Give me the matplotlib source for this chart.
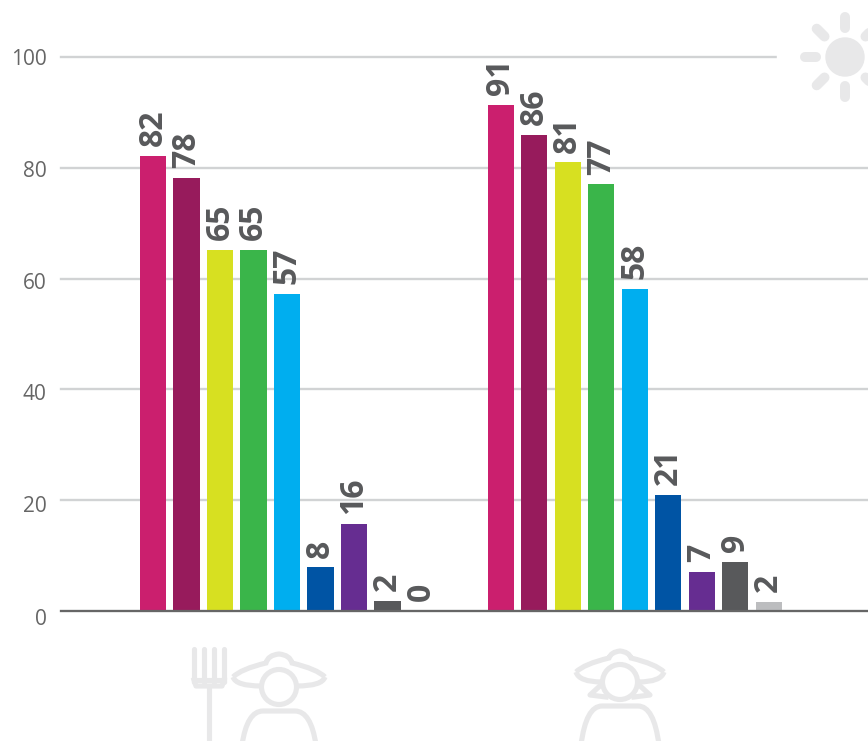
import numpy as np
import matplotlib
matplotlib.use('Agg')
import matplotlib.pyplot as plt
from matplotlib.patches import Circle, PathPatch, Rectangle
from matplotlib.path import Path
from matplotlib.transforms import ScaledTranslation

plt.rcParams['font.family'] = ['Open Sans', 'DejaVu Sans']

W, H = 868, 741

group_starts = [0, 10.38]
values_farmer = [82.1, 78.2, 65.2, 65.2, 57.2, 7.9, 15.7, 1.8, 0]
values_woman = [91.4, 86, 81, 77, 58.1, 21, 7.1, 8.9, 1.6]
bar_colors = ['#cb1f6e', '#971b5c', '#d7e021', '#3ab54a', '#00aeef',
              '#0054a4', '#662d91', '#58595b', '#bcbdbf']
y_ticks = [0, 20, 40, 60, 80, 100]

ICON = '#e8e8e9'
GREY = '#58595b'
LW = 3.7

fig = plt.figure(figsize=(W / 100, H / 100), dpi=100)
ax = fig.add_axes([61 / W, (H - 611) / H, (W - 61) / W, 554 / H])

# one x unit is one bar step (33.5 px), first bar centre at 153 px
step = 33.5
ax.set_xlim((61 - 153) / step, (868 - 153) / step)
ax.set_ylim(0, 100)

for start, vals in zip(group_starts, [values_farmer, values_woman]):
    xs = start + np.arange(len(vals))
    ax.bar(xs, vals, width=0.78, color=bar_colors, zorder=3)
    for x, v in zip(xs, vals):
        ax.annotate(f'{v:.0f}', (x, v), xytext=(0, 7), textcoords='offset points',
                    rotation=90, ha='center', va='bottom', fontsize=23,
                    fontweight='bold', color=GREY, zorder=4)

ax.set_yticks(y_ticks)
ax.set_xticks([])
ax.tick_params(axis='y', length=0, labelsize=15, labelcolor='#666666', pad=10.5)
ax.grid(axis='y', color='#d1d3d4', lw=1.7, zorder=1)
for line in ax.get_ygridlines():
    line.set_clip_on(False)
for s in ['top', 'right', 'left']:
    ax.spines[s].set_visible(False)
ax.spines['bottom'].set_color('#666666')
ax.spines['bottom'].set_linewidth(1.6)
ax.spines['bottom'].set_zorder(5)
ax.patch.set_visible(False)

# reference tick labels drift slightly off their gridlines towards the bottom
for lab, shift in zip(ax.get_yticklabels(), [6, 4, 3, 2, 1, 0]):
    lab.set_transform(lab.get_transform() + ScaledTranslation(0, -shift / 100, fig.dpi_scale_trans))

# overlay in pixel coordinates for the decorative icons
ov = fig.add_axes([0, 0, 1, 1], zorder=10)
ov.set_xlim(0, W)
ov.set_ylim(H, 0)
ov.axis('off')

# sun
ov.add_patch(Rectangle((777, 20), 91, 80, color='white', zorder=1))
ov.add_patch(Circle((845, 57), 19, color=ICON, zorder=2))
for ang in range(0, 360, 45):
    a = np.radians(ang)
    ov.plot([845 + 29 * np.cos(a), 845 + 40 * np.cos(a)],
            [57 + 29 * np.sin(a), 57 + 40 * np.sin(a)],
            color=ICON, lw=7.2, solid_capstyle='round', zorder=2)


def stroke(verts, codes):
    ov.add_patch(PathPatch(Path(verts, codes), fc='none', ec=ICON, lw=LW, zorder=2))


def hat(cx, half, tip_y, dx, sh_y, top_y, low_dx, low_y):
    C = Path.CURVE3
    stroke([(cx - half, tip_y), (cx - half + 8, sh_y + 6), (cx - dx, sh_y),
            (cx - dx + 2, top_y + 1), (cx, top_y), (cx + dx - 2, top_y + 1), (cx + dx, sh_y),
            (cx + half - 8, sh_y + 6), (cx + half, tip_y)],
           [Path.MOVETO, C, C, C, C, C, C, C, C])
    stroke([(cx - low_dx, low_y), (cx - half + 3, low_y), (cx - half, tip_y)],
           [Path.MOVETO, C, C])
    stroke([(cx + low_dx, low_y), (cx + half - 3, low_y), (cx + half, tip_y)],
           [Path.MOVETO, C, C])


def body(cx, top, flat, bottom):
    C = Path.CURVE3
    stroke([(cx - bottom, 745), (cx - bottom + 5, top), (cx - flat, top),
            (cx + flat, top), (cx + bottom - 5, top), (cx + bottom, 745)],
           [Path.MOVETO, C, C, Path.LINETO, C, C])


# farmer with fork
hat(279, 46, 677, 13, 663, 654, 18, 686)
ov.add_patch(Circle((279, 687), 17.5, fc='white', ec=ICON, lw=LW, zorder=3))
body(279, 711, 16, 37)
for fx in [194, 204, 214, 224]:
    ov.plot([fx, fx], [649, 682], color=ICON, lw=LW, solid_capstyle='round', zorder=2)
ov.plot([194, 224], [680, 680], color=ICON, lw=LW, zorder=2)
ov.plot([194, 196, 222, 224], [680, 686, 686, 680], color=ICON, lw=LW, zorder=2)
ov.plot([209, 209], [686, 745], color=ICON, lw=LW, zorder=2)

# woman
hat(620, 44, 672, 11, 658, 651, 18, 682)
ov.plot([602, 590, 606], [684, 695, 697], color=ICON, lw=LW, zorder=2)
ov.plot([638, 650, 634], [684, 695, 697], color=ICON, lw=LW, zorder=2)
ov.add_patch(Circle((620, 682), 17.5, fc='white', ec=ICON, lw=LW, zorder=3))
body(620, 706, 18, 39)

fig.savefig('out.png', dpi=100)
